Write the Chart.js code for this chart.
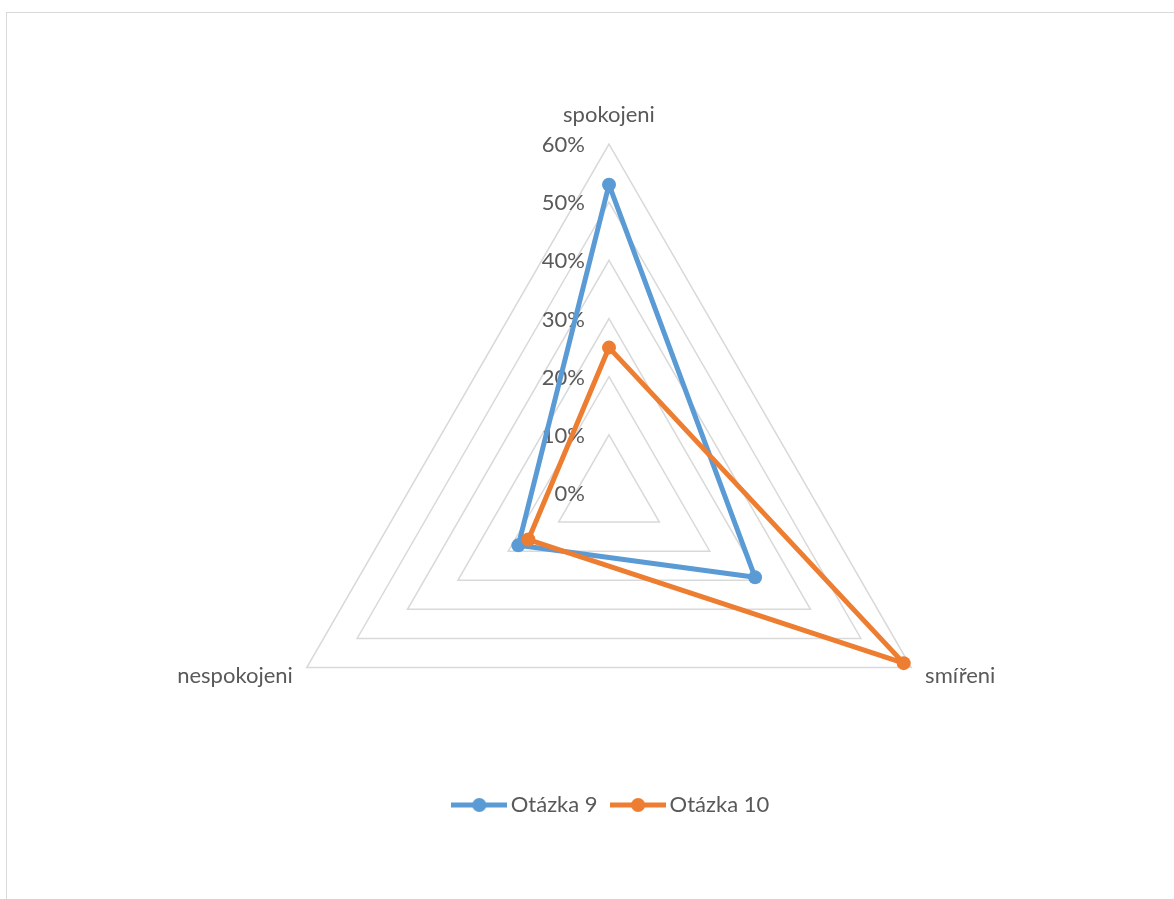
<!DOCTYPE html>
<html lang="cs">
<head>
<meta charset="utf-8">
<title>Otázka 9 a Otázka 10</title>
<script src="https://cdn.jsdelivr.net/npm/chart.js@4.4.1/dist/chart.umd.min.js"></script>
<style>
  html, body { margin: 0; padding: 0; background: #ffffff; overflow: hidden; width: 1174px; height: 899px; }
  #frame {
    position: absolute; left: 6px; top: 12px;
    width: 1206px; height: 900px;
    border: 1px solid #d9d9d9; box-sizing: border-box; background: #ffffff;
  }
  #frame canvas { display: block; }
</style>
</head>
<body>
<div id="frame"><canvas id="radar" width="1204" height="898"></canvas></div>
<script>
// Axis categories and the two survey series (percent)
const categories = ['spokojeni', 'smířeni', 'nespokojeni'];
const seriesNames = ['Otázka 9', 'Otázka 10'];
const otazka9 = [53, 29, 18];
const otazka10 = [25, 58.5, 16];
const tickLabels = ['0%', '10%', '20%', '30%', '40%', '50%', '60%'];

const BLUE = '#5b9bd5';
const ORANGE = '#ed7d31';
const TEXT = '#595959';
const FONT = 'Lato';

// Radar geometry inside the canvas
const RADAR_CX = 602;
const RADAR_CY = 480;
const RADAR_R = 349;

// Legend marker: a short line with a dot in the middle
function legendMarker(color) {
  const c = document.createElement('canvas');
  c.width = 56; c.height = 16;
  const g = c.getContext('2d');
  g.strokeStyle = color; g.lineWidth = 5;
  g.beginPath(); g.moveTo(0, 8); g.lineTo(56, 8); g.stroke();
  g.fillStyle = color;
  g.beginPath(); g.arc(28, 8, 7, 0, Math.PI * 2); g.fill();
  return c;
}

// Percent labels drawn to the left of the vertical axis
const sideTickLabels = {
  id: 'sideTickLabels',
  beforeDatasetsDraw(chart) {
    const s = chart.scales.r;
    const ctx = chart.ctx;
    ctx.save();
    ctx.font = '22px ' + FONT;
    ctx.fillStyle = TEXT;
    ctx.textAlign = 'right';
    ctx.textBaseline = 'middle';
    s.ticks.forEach((t, i) => {
      const d = s.getDistanceFromCenterForValue(t.value);
      ctx.fillText(tickLabels[i], s.xCenter - 24, s.yCenter - d + 1);
    });
    ctx.restore();
  }
};

new Chart(document.getElementById('radar'), {
  type: 'radar',
  data: {
    labels: categories,
    datasets: [
      {
        label: seriesNames[0], data: otazka9, order: 1,
        borderColor: BLUE, backgroundColor: BLUE, borderWidth: 5, fill: false,
        borderJoinStyle: 'round',
        pointRadius: 7, pointBorderWidth: 0, pointBackgroundColor: BLUE, pointBorderColor: BLUE
      },
      {
        label: seriesNames[1], data: otazka10, order: 0,
        borderColor: ORANGE, backgroundColor: ORANGE, borderWidth: 5, fill: false,
        borderJoinStyle: 'round',
        pointRadius: 7, pointBorderWidth: 0, pointBackgroundColor: ORANGE, pointBorderColor: ORANGE
      }
    ]
  },
  options: {
    responsive: false,
    animation: false,
    layout: { padding: { top: 0, left: 10, right: 0, bottom: 85 } },
    scales: {
      r: {
        min: 0, max: 60,
        ticks: { stepSize: 10, display: false, callback: (v, i) => tickLabels[i] },
        grid: { circular: false, color: '#d9d9d9', lineWidth: 1.5 },
        angleLines: { display: false },
        pointLabels: {
          display: true,
          color: TEXT,
          padding: 16,
          font: (ctx) => ({ family: FONT, size: 22, lineHeight: ctx.index === 0 ? 1.2 : 0.05 })
        },
        afterSetDimensions(scale) {
          scale.xCenter = RADAR_CX;
          scale.yCenter = RADAR_CY;
          scale.drawingArea = RADAR_R;
        }
      }
    },
    plugins: {
      tooltip: { enabled: false },
      legend: {
        position: 'bottom',
        labels: {
          usePointStyle: true,
          pointStyleWidth: 41,
          padding: 20,
          color: TEXT,
          font: { family: FONT, size: 22 },
          generateLabels(chart) {
            return chart.data.datasets.map((ds, i) => ({
              text: ds.label,
              datasetIndex: i,
              pointStyle: legendMarker(ds.borderColor),
              fillStyle: ds.borderColor,
              strokeStyle: ds.borderColor,
              lineWidth: 0,
              fontColor: TEXT,
              hidden: !chart.isDatasetVisible(i)
            }));
          }
        }
      }
    }
  },
  plugins: [sideTickLabels]
});
</script>
</body>
</html>
